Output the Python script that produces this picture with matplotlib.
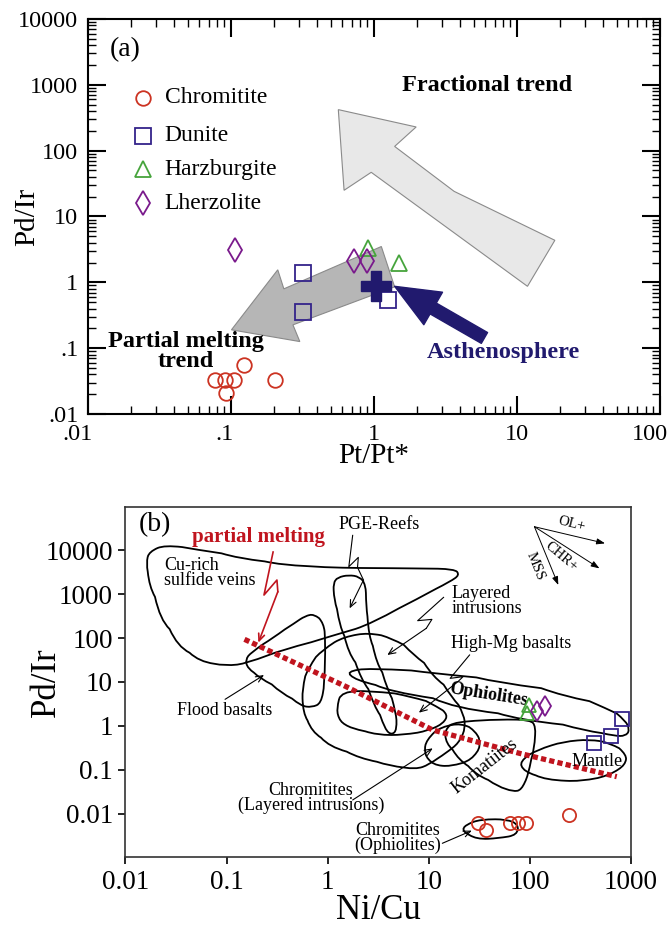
import numpy as np
import matplotlib
matplotlib.use('Agg')
import matplotlib.pyplot as plt
import matplotlib.transforms as mtransforms
from matplotlib.patches import Polygon, PathPatch
from matplotlib.path import Path
from matplotlib.ticker import LogLocator, NullFormatter, NullLocator

plt.rcParams['font.family'] = ['Liberation Serif', 'DejaVu Serif']

# ---------------- panel (a) data : Pt/Pt* vs Pd/Ir ----------------
chr_a_x = [0.078, 0.091, 0.105, 0.093, 0.123, 0.203]
chr_a_y = [0.033, 0.033, 0.033, 0.021, 0.055, 0.033]
dun_a_x = [0.32, 0.32, 1.25]
dun_a_y = [1.39, 0.355, 0.54]
hzb_a_x = [0.91, 1.51]
hzb_a_y = [3.3, 1.97]
lhz_a_x = [0.107, 0.73, 0.89]
lhz_a_y = [3.13, 2.09, 2.09]
asth_x = [1.03]
asth_y = [0.87]

a_xticks = [0.01, 0.1, 1, 10, 100]
a_xlabels = ['.01', '.1', '1', '10', '100']
a_yticks = [0.01, 0.1, 1, 10, 100, 1000, 10000]
a_ylabels = ['.01', '.1', '1', '10', '100', '1000', '10000']

# trend arrows (data coords)
frac_arrow = [(0.565, 420), (1.98, 229), (1.40, 116), (3.65, 24.1), (18.5, 4.35),
              (11.9, 0.87), (0.96, 46.9), (0.62, 25)]
melt_arrow = [(0.101, 0.19), (0.213, 1.55), (0.235, 0.796), (1.13, 3.5),
              (1.40, 0.855), (0.272, 0.226), (0.304, 0.126)]

# ---------------- panel (b) data : Ni/Cu vs Pd/Ir ----------------
chr_b_x = [30.8, 36.5, 63, 76, 91, 244]
chr_b_y = [0.0061, 0.0043, 0.0061, 0.0061, 0.0061, 0.0095]
dun_b_x = [429, 641, 821]
dun_b_y = [0.42, 0.59, 1.42]
hzb_b_x = [98, 94]
hzb_b_y = [3.0, 2.0]
lhz_b_x = [117, 142]
lhz_b_y = [2.23, 2.9]

b_xticks = [0.01, 0.1, 1, 10, 100, 1000]
b_xlabels = ['0.01', '0.1', '1', '10', '100', '1000']
b_yticks = [0.01, 0.1, 1, 10, 100, 1000, 10000]
b_ylabels = ['0.01', '0.1', '1', '10', '100', '1000', '10000']

# field outlines, log10(Ni/Cu), log10(Pd/Ir)
cu_rich = [(-1.765, 3.962), (-1.615, 4.114), (-1.315, 4.015), (-0.887, 3.811), (-0.459, 3.659),
           (-0.031, 3.606), (0.269, 3.591), (0.825, 3.583), (1.253, 3.568), (1.305, 3.432),
           (1.211, 3.280), (0.868, 2.864), (0.440, 2.333), (0.012, 2.030), (-0.459, 1.727),
           (-0.801, 1.424), (-1.015, 1.364), (-1.272, 1.462), (-1.486, 1.803), (-1.658, 2.409),
           (-1.765, 3.167), (-1.795, 3.697)]
flood = [(-0.138, 2.545), (-0.039, 2.333), (-0.022, 1.803), (-0.031, 0.894), (-0.065, 0.515),
         (-0.159, 0.424), (-0.266, 0.455), (-0.459, 0.742), (-0.673, 1.083), (-0.793, 1.311),
         (-0.814, 1.5), (-0.759, 1.667), (-0.545, 1.992), (-0.330, 2.333), (-0.223, 2.5)]
pge = [(0.055, 3.242), (0.063, 2.864), (0.119, 2.258), (0.205, 1.652), (0.333, 1.045),
       (0.461, 0.439), (0.568, -0.091), (0.633, -0.205), (0.684, -0.091), (0.676, 0.288),
       (0.590, 0.818), (0.483, 1.424), (0.406, 2.030), (0.380, 2.712), (0.376, 3.205),
       (0.312, 3.394), (0.205, 3.432), (0.098, 3.379)]
layered = [(0.397, 2.121), (0.633, 1.992), (0.847, 1.614), (1.039, 1.121), (1.232, 0.629),
           (1.348, 0.25), (1.360, -0.091), (1.296, -0.394), (1.168, -0.621), (0.997, -0.886),
           (0.868, -0.985), (0.611, -0.909), (0.312, -0.735), (0.012, -0.470), (-0.159, -0.129),
           (-0.245, 0.288), (-0.253, 0.818), (-0.193, 1.311), (-0.052, 1.727), (0.162, 2.030)]
high_mg = [(0.140, 0.780), (0.397, 0.803), (0.825, 0.667), (1.082, 0.439), (1.189, 0.25),
           (1.146, 0.061), (0.997, -0.106), (0.740, -0.205), (0.483, -0.205), (0.226, -0.053),
           (0.119, 0.098), (0.085, 0.364)]
ophiolites = [(0.183, 1.235), (0.397, 1.318), (1.039, 1.197), (1.682, 0.985), (2.324, 0.682),
              (2.752, 0.402), (2.944, 0.121), (2.987, -0.106), (2.944, -0.227), (2.837, -0.227),
              (2.538, -0.106), (1.896, 0.136), (1.253, 0.402), (0.611, 0.780), (0.269, 1.045)]
chrom_li = [(0.975, -0.318), (1.125, -0.015), (1.318, 0.061), (1.467, -0.129), (1.519, -0.470),
            (1.425, -0.773), (1.211, -0.924), (1.039, -0.886), (0.954, -0.659)]
komatiites = [(1.253, 0.098), (1.682, 0.152), (2.003, 0.136), (2.058, -0.015), (2.045, -0.545),
              (1.981, -1.152), (1.917, -1.455), (1.831, -1.492), (1.682, -1.379), (1.467, -1.114),
              (1.296, -0.773), (1.168, -0.394), (1.159, -0.091)]
mantle = [(1.896, -0.811), (2.067, -0.545), (2.324, -0.356), (2.580, -0.303), (2.795, -0.394),
          (2.957, -0.659), (2.944, -0.886), (2.795, -1.114), (2.495, -1.265), (2.152, -1.227),
          (1.938, -1.038)]
chrom_oph = [(1.360, -2.25), (1.510, -2.121), (1.767, -2.121), (1.887, -2.25), (1.874, -2.477),
             (1.682, -2.553), (1.467, -2.576), (1.330, -2.402)]
fields = [cu_rich, flood, pge, layered, high_mg, ophiolites, chrom_li, komatiites, mantle, chrom_oph]

# partial melting trend (log10)
melt_lx = [-0.823, 0.183, 1.039, 1.896, 2.859]
melt_ly = [1.970, 0.894, -0.091, -0.621, -1.152]

RED = '#cc3322'
NAVY = '#34238a'
GREEN = '#46a43c'
PURPLE = '#7a1a8c'
ASTH = '#211a6e'
DKRED = '#c0141e'


def smooth_closed(pts):
    pts = np.asarray(pts, dtype=float)
    mids = (pts + np.roll(pts, -1, axis=0)) / 2
    verts = [mids[-1]]
    codes = [Path.MOVETO]
    for i in range(len(pts)):
        verts += [pts[i], mids[i]]
        codes += [Path.CURVE3, Path.CURVE3]
    return Path(verts, codes)


def e(p):
    return (10 ** p[0], 10 ** p[1])


fig = plt.figure(figsize=(6.71, 9.26), dpi=100)

# ======================= panel (a) =======================
axa = fig.add_axes([0.131, 0.5529, 0.852, 0.4266])
axa.set_xscale('log')
axa.set_yscale('log')
axa.set_xlim(0.01, 100)
axa.set_ylim(0.01, 10000)
axa.set_xticks(a_xticks)
axa.set_xticklabels(a_xlabels)
axa.set_yticks(a_yticks)
axa.set_yticklabels(a_ylabels)
for ax_ in (axa.xaxis, axa.yaxis):
    ax_.set_minor_locator(LogLocator(base=10, subs=np.arange(2, 10)))
    ax_.set_minor_formatter(NullFormatter())
axa.tick_params(which='major', direction='in', length=13, width=1.5,
                top=True, right=True, labelsize=17.5, pad=7)
axa.tick_params(which='minor', direction='in', length=6, width=1.0, top=True, right=True)
for s in axa.spines.values():
    s.set_linewidth(1.5)

# nudge a few x tick labels to the left like in the original
for tick, dx in zip(axa.xaxis.get_major_ticks(), [-10, -6, 0, 0, -10]):
    tick.label1.set_transform(tick.label1.get_transform() +
                              mtransforms.ScaledTranslation(dx / 100, 0, fig.dpi_scale_trans))

axa.add_patch(Polygon(frac_arrow, closed=True, fc='#e8e8e8', ec='#8a8a8a', lw=0.8, zorder=1))
axa.add_patch(Polygon(melt_arrow, closed=True, fc='#b6b6b6', ec='#8a8a8a', lw=0.8, zorder=1))

axa.annotate('', xy=(1.40, 0.87), xytext=(5.95, 0.143),
             arrowprops=dict(arrowstyle='simple,head_length=1.6,head_width=1.35,tail_width=0.45',
                             color=ASTH, mutation_scale=20, shrinkA=0, shrinkB=0), zorder=2)

axa.plot(chr_a_x, chr_a_y, 'o', ms=10.5, mfc='none', mec=RED, mew=1.3, ls='none', zorder=3)
axa.plot(dun_a_x, dun_a_y, 's', ms=11, mfc='none', mec=NAVY, mew=1.3, ls='none', zorder=3)
axa.plot(hzb_a_x, hzb_a_y, '^', ms=12, mfc='none', mec=GREEN, mew=1.3, ls='none', zorder=3)
axa.plot(lhz_a_x, lhz_a_y, 'd', ms=12, mfc='none', mec=PURPLE, mew=1.3, ls='none', zorder=3)
axa.plot(asth_x, asth_y, 'P', ms=21, color=ASTH, ls='none', zorder=4)

# legend
leg_items = [('o', RED, 'Chromitite', 10.5), ('s', NAVY, 'Dunite', 11),
             ('^', GREEN, 'Harzburgite', 12), ('d', PURPLE, 'Lherzolite', 12)]
leg_y = [0.80, 0.705, 0.619, 0.534]
for (m, c, lab, ms), yy in zip(leg_items, leg_y):
    axa.plot([0.096], [yy], m, ms=ms, mfc='none', mec=c, mew=1.3, transform=axa.transAxes)
    axa.text(0.134, yy, lab, fontsize=17, ha='left', va='center', transform=axa.transAxes)

axa.text(0.039, 0.922, '(a)', fontsize=20, ha='left', va='center', transform=axa.transAxes)
axa.text(6.17, 970, 'Fractional trend', fontsize=17.5, fontweight='bold', ha='center', va='center')
axa.text(0.0487, 0.0895, 'Partial melting\ntrend', fontsize=17.5, fontweight='bold',
         ha='center', va='center', linespacing=0.9)
axa.text(8.1, 0.0865, 'Asthenosphere', fontsize=17.5, fontweight='bold', color=ASTH,
         ha='center', va='center')

axa.set_ylabel('Pd/Ir', fontsize=21)
axa.yaxis.set_label_coords(-0.084, 0.5)
axa.set_xlabel('Pt/Pt*', fontsize=21, va='top')
axa.xaxis.set_label_coords(0.5, -0.073)

# ======================= panel (b) =======================
axb = fig.add_axes([0.187, 0.0742, 0.7534, 0.3786])
axb.set_xscale('log')
axb.set_yscale('log')
axb.set_xlim(0.01, 1000)
axb.set_ylim(10 ** -2.985, 10 ** 4.985)
axb.set_xticks(b_xticks)
axb.set_xticklabels(b_xlabels)
axb.set_yticks(b_yticks)
axb.set_yticklabels(b_ylabels)
axb.xaxis.set_minor_locator(NullLocator())
axb.yaxis.set_minor_locator(NullLocator())
axb.tick_params(direction='out', length=5, width=1.2, labelsize=19.5, pad=4)
for s in axb.spines.values():
    s.set_linewidth(1.2)
    s.set_color('#333333')

for f in fields:
    axb.add_patch(PathPatch(smooth_closed([e(p) for p in f]), fill=False, ec='k', lw=1.3, zorder=2))

axb.plot(10 ** np.array(melt_lx), 10 ** np.array(melt_ly), color=DKRED, lw=3.8,
         dashes=(1.0, 0.6), dash_capstyle='butt', zorder=3)

axb.plot(chr_b_x, chr_b_y, 'o', ms=9.5, mfc='none', mec=RED, mew=1.3, ls='none', zorder=4)
axb.plot(dun_b_x, dun_b_y, 's', ms=9.5, mfc='none', mec=NAVY, mew=1.3, ls='none', zorder=4)
axb.plot(hzb_b_x, hzb_b_y, '^', ms=9.5, mfc='none', mec=GREEN, mew=1.3, ls='none', zorder=4)
axb.plot(lhz_b_x, lhz_b_y, 'd', ms=10, mfc='none', mec=PURPLE, mew=1.3, ls='none', zorder=4)


def pointer(path_pts, tip, color='k', lw=0.8):
    pts = [e(p) for p in path_pts]
    if len(pts) > 1:
        axb.plot([p[0] for p in pts], [p[1] for p in pts], color=color, lw=lw, zorder=3)
    axb.annotate('', xy=e(tip), xytext=pts[-1],
                 arrowprops=dict(arrowstyle='->,head_length=0.5,head_width=0.22', color=color,
                                 lw=lw, shrinkA=0, shrinkB=0), zorder=3)


pointer([(-0.540, 3.955), (-0.630, 2.977), (-0.502, 3.318), (-0.493, 3.053)], (-0.686, 1.894),
        color=DKRED, lw=1.2)
pointer([(0.247, 4.333), (0.209, 3.621), (0.303, 3.833), (0.295, 3.606), (0.354, 3.318)], (0.217, 2.674))
pointer([(1.146, 2.924), (0.890, 2.394), (1.031, 2.424), (0.975, 2.220)], (0.590, 1.614))
pointer([(1.403, 1.614), (1.211, 1.083), (1.339, 1.121), (1.288, 1.008)], (0.902, 0.303))
pointer([(-1.015, 0.606)], (-0.630, 1.159))
pointer([(0.247, -1.682)], (1.039, -0.508))
pointer([(1.134, -2.667)], (1.425, -2.379))

# OL+ / CHR+ / MSS vectors
origin = e((2.045, 4.530))
for tip, lab, pos, rot in [((2.743, 4.152), 'OL+', (2.409, 4.591), -14),
                           ((2.688, 3.583), 'CHR+', (2.311, 3.848), -40),
                           ((2.281, 3.205), 'MSS', (2.053, 3.636), -68)]:
    axb.annotate('', xy=e(tip), xytext=origin,
                 arrowprops=dict(arrowstyle='-|>,head_length=0.5,head_width=0.18', color='k',
                                 lw=0.7, shrinkA=0, shrinkB=0))
    axb.text(*e(pos), lab, fontsize=10.5, rotation=rot, ha='center', va='center')

axb.text(0.026, 0.948, '(b)', fontsize=20, ha='left', va='center', transform=axb.transAxes)
axb.text(0.264, 0.913, 'partial melting', fontsize=15, fontweight='bold', color=DKRED,
         ha='center', va='center', transform=axb.transAxes)
axb.text(*e((-1.615, 3.477)), 'Cu-rich\nsulfide veins', fontsize=13, ha='left', va='center',
         linespacing=0.85)
axb.text(*e((0.513, 4.591)), 'PGE-Reefs', fontsize=13, ha='center', va='center')
axb.text(*e((1.223, 2.841)), 'Layered\nintrusions', fontsize=13, ha='left', va='center',
         linespacing=0.9)
axb.text(*e((1.223, 1.864)), 'High-Mg basalts', fontsize=13, ha='left', va='center')
axb.text(*e((1.587, 0.705)), 'Ophiolites', fontsize=13, fontweight='bold', rotation=-9,
         ha='center', va='center')
axb.text(*e((-1.024, 0.348)), 'Flood basalts', fontsize=13, ha='center', va='center')
axb.text(*e((-0.168, -1.644)), 'Chromitites\n(Layered intrusions)', fontsize=13,
         ha='center', va='center', linespacing=0.8)
axb.text(*e((0.688, -2.553)), 'Chromitites\n(Ophiolites)', fontsize=13,
         ha='center', va='center', linespacing=0.85)
axb.text(*e((1.553, -0.924)), 'Komatiites', fontsize=13, rotation=38, ha='center', va='center')
axb.text(*e((2.666, -0.811)), 'Mantle', fontsize=13, ha='center', va='center')

axb.set_ylabel('Pd/Ir', fontsize=25)
axb.yaxis.set_label_coords(-0.124, 0.5)
axb.set_xlabel('Ni/Cu', fontsize=25, va='top')
axb.xaxis.set_label_coords(0.5, -0.105)

fig.savefig('out.png', dpi=100)
